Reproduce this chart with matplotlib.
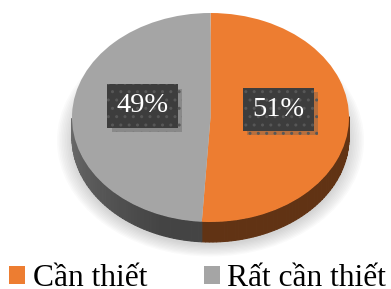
import numpy as np
import matplotlib
matplotlib.use('Agg')
import matplotlib.pyplot as plt
import matplotlib.patheffects as pe
from matplotlib.patches import Polygon, Ellipse

labels = ['Cần thiết', 'Rất cần thiết']
values = [51, 49]
colors = ['#ED7D31', '#A5A5A5']

W, H = 391, 289
# top ellipse in pixels (centre, half axes), side depth
cx, cy, rx, ry = 210.5, 117.5, 138.5, 104.5
depth = 20 / ry
serif = ['Liberation Serif', 'DejaVu Serif']

fig = plt.figure(figsize=(W / 100, H / 100), dpi=100)
ax = fig.add_axes([0, 0, 1, 1])

wedges, texts, autotexts = ax.pie(values, colors=colors, startangle=90, counterclock=False,
                                  autopct=lambda p: '%.0f%%' % p, pctdistance=0.49,
                                  wedgeprops=dict(linewidth=0))

# soft shadow under the pie
for k in range(10):
    s = 1.0 + 0.012 * k
    ax.add_patch(Ellipse((0.0, -depth - 0.03), 2 * s, 2 * s, color='#7f7f7f',
                         alpha=0.035, lw=0, zorder=0.1))


def shade(a):
    a = a % 360
    return 0.41 + 0.25 * np.clip((250 - a) / 70, 0, 1)


# side of the 3d pie
for w, c in zip(wedges, colors):
    rgb = np.array(matplotlib.colors.to_rgb(c))
    ts = np.linspace(w.theta1, w.theta2, 120)
    for a0, a1 in zip(ts[:-1], ts[1:]):
        if np.sin(np.radians((a0 + a1) / 2)) >= 0:
            continue
        tt = np.radians(np.linspace(a0, a1, 4))
        top = np.column_stack([np.cos(tt), np.sin(tt)])
        bot = np.column_stack([np.cos(tt[::-1]), np.sin(tt[::-1]) - depth])
        col = rgb * shade((a0 + a1) / 2)
        ax.add_patch(Polygon(np.vstack([top, bot]), closed=True, lw=0.8,
                             fc=col, ec=col, zorder=0.9))

for t in autotexts:
    x, y = t.get_position()
    t.set_position((x, y + 0.095))
    t.set_color('white')
    t.set_fontsize(20.5)
    t.set_family(serif)
    t.set_bbox(dict(boxstyle='square,pad=0.32', fc='#3d3d3d', ec='#575757', lw=0, hatch='..'))
    t.get_bbox_patch().set_path_effects([
        pe.SimplePatchShadow(offset=(3, -3), shadow_rgbFace='#555555', alpha=0.35),
        pe.Normal()])
    t.set_zorder(4)

ax.set_xlim((0 - cx) / rx, (W - cx) / rx)
ax.set_ylim((cy - H) / ry, cy / ry)
ax.set_aspect('auto')
ax.axis('off')

ax.legend(wedges, labels, ncol=2, loc='lower left', bbox_to_anchor=(9 / W, -4 / H),
          bbox_transform=fig.transFigure, frameon=False,
          prop=dict(family=serif, size=22.7), handlelength=0.5, handleheight=0.5,
          handletextpad=0.25, columnspacing=1.8, borderpad=0, borderaxespad=0)

plt.savefig('out.png', dpi=100)
